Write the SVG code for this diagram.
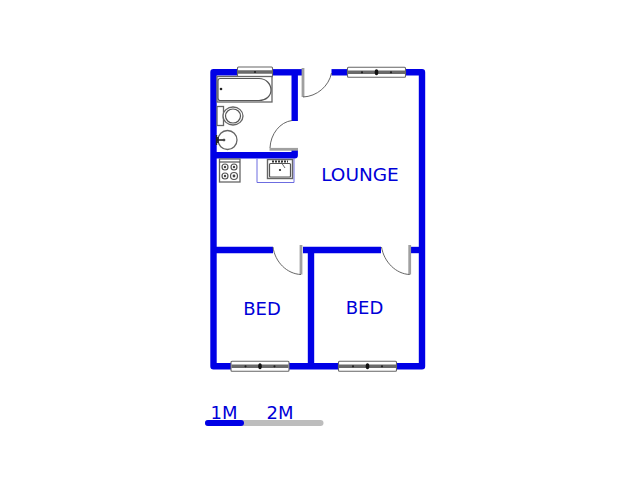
<svg xmlns="http://www.w3.org/2000/svg" width="640" height="480" viewBox="0 0 640 480">
<style>
.wall{fill:none;stroke:#0000e6;stroke-width:6.400;stroke-linejoin:round;stroke-linecap:butt}
.leaf{fill:none;stroke:#a0a0a0;stroke-width:2.800}
.arc{fill:none;stroke:#555;stroke-width:.9}
.fix{fill:#fff;stroke:#666;stroke-width:1.300}
.line{fill:none;stroke:#555;stroke-width:1.200}
.win{fill:#fff;stroke:#666;stroke-width:1.100}
.winbar{stroke:#6a6a6a;stroke-width:3.600}
.lbl{font-family:"DejaVu Sans",Verdana,sans-serif;fill:#0000d8;text-anchor:middle}
</style>
<defs>
<g id="window58">
<rect class="win" x="0" y="0" width="58" height="10" rx="1"/>
<line class="winbar" x1="0.5" y1="5" x2="57.5" y2="5"/>
<ellipse cx="29" cy="5" rx="1.800" ry="3" fill="#111"/>
<circle cx="14.500" cy="5" r="1.100" fill="#222"/>
<circle cx="43.500" cy="5" r="1.100" fill="#222"/>
</g>
</defs>
<g id="walls" class="wall">
<path d="M237 72.300H213.500V366.300H231"/>
<path d="M272 72.300H303"/>
<path d="M331.500 72.300H347"/>
<path d="M405.500 72.300H422V366.300H396"/>
<path d="M294.700 72.300V121"/>
<path d="M213.500 155.300H294.700V150"/>
<path d="M213.500 250H273"/>
<path d="M303 250H381"/>
<path d="M411 250H422"/>
<path d="M311 250V366.300"/>
<path d="M289 366.300H338.500"/>
</g>
<g id="connectors"></g>
<g id="door-bath">
<path class="leaf" d="M269.500 149.300H298"/>
<path class="arc" d="M270 148C270.500 134 280 122 292 120.500"/>
</g>
<g id="door-entry">
<path class="leaf" d="M303 68V97"/>
<path class="arc" d="M303 97C317 96.500 329 86 331.500 73"/>
</g>
<g id="door-bed1">
<path class="leaf" d="M301 245V274.500"/>
<path class="arc" d="M273 247C275 262 287 274 301 274.500"/>
</g>
<g id="door-bed2">
<path class="leaf" d="M409.700 245V274.500"/>
<path class="arc" d="M381.500 247C384 262 396 274 409.700 274.500"/>
</g>
<g id="window-bath">
<rect class="win" x="237.500" y="67" width="35" height="10" rx="1"/>
<line class="winbar" x1="238" y1="72" x2="272" y2="72"/>
<circle cx="255" cy="72" r="1.100" fill="#222"/>
</g>
<use id="window-lounge" href="#window58" x="347.500" y="67.300"/>
<use id="window-bed1" href="#window58" x="231" y="361.300"/>
<use id="window-bed2" href="#window58" x="338.500" y="361.300"/>
<g id="bath">
<rect class="fix" x="217" y="76.500" width="55" height="25.500"/>
<path class="line" d="M220 78.500H259C266 78.500 271 84 271 90C271 96 266 100.500 259 100.500H220C218.500 100.500 218 99.500 218 98V81C218 79.500 218.500 78.500 220 78.500Z"/>
<circle cx="221" cy="89" r="1.300" fill="#222"/>
</g>
<g id="toilet">
<rect class="fix" x="217" y="106.500" width="6.500" height="19"/>
<ellipse class="fix" cx="233" cy="116" rx="10" ry="9"/>
<ellipse class="line" cx="233" cy="116" rx="7.500" ry="7"/>
</g>
<g id="basin">
<circle class="fix" cx="227.500" cy="140" r="9.500"/>
<path d="M216.500 135V145M218 137V143M217 140H225" fill="none" stroke="#222" stroke-width="1.400"/>
<circle cx="224" cy="140" r="1" fill="none" stroke="#444" stroke-width=".8"/>
</g>
<g id="stove">
<rect class="fix" x="219.500" y="159" width="20.500" height="23"/>
<path class="line" d="M219.500 162H240"/>
<circle class="line" cx="225" cy="167" r="3"/>
<circle class="line" cx="234" cy="167" r="3"/>
<circle class="line" cx="225" cy="176" r="3"/>
<circle class="line" cx="234" cy="176" r="3.500"/>
<circle cx="225" cy="167" r="1.200" fill="#444"/>
<circle cx="234" cy="167" r="1.200" fill="#444"/>
<circle cx="225" cy="176" r="1.200" fill="#444"/>
<circle cx="234" cy="176" r="1.400" fill="#444"/>
</g>
<g id="counter">
<path d="M257 158.500V182.500H294V158" fill="none" stroke="#6c6ce0" stroke-width="1"/>
</g>
<g id="sink">
<rect x="267.500" y="159.500" width="25" height="19" fill="#fff" stroke="#666" stroke-width="1.400"/>
<rect x="269.500" y="163.500" width="21" height="13.500" rx="1" fill="#fff" stroke="#555" stroke-width="1.200"/>
<path d="M272 161.500H288" stroke="#333" stroke-width="2.200" stroke-dasharray="2 1"/>
<path d="M281 162L285 168" stroke="#666" stroke-width="1"/>
<circle cx="280" cy="170" r="1.100" fill="#222"/>
</g>
<g id="label-lounge"><text class="lbl" x="360" y="180.800" font-size="18.500">LOUNGE</text></g>
<g id="label-bed1"><text class="lbl" x="262" y="315" font-size="18">BED</text></g>
<g id="label-bed2"><text class="lbl" x="364.500" y="313.500" font-size="18">BED</text></g>
<g id="scale">
<line x1="208" y1="423" x2="320.500" y2="423" stroke="#bdbdbd" stroke-width="6" stroke-linecap="round"/>
<path d="M208 423H241" stroke="#0000e6" stroke-width="6" stroke-linecap="round"/>
<text class="lbl" x="224" y="418.500" font-size="18">1M</text>
<text class="lbl" x="280" y="418.500" font-size="18">2M</text>
</g>
</svg>
